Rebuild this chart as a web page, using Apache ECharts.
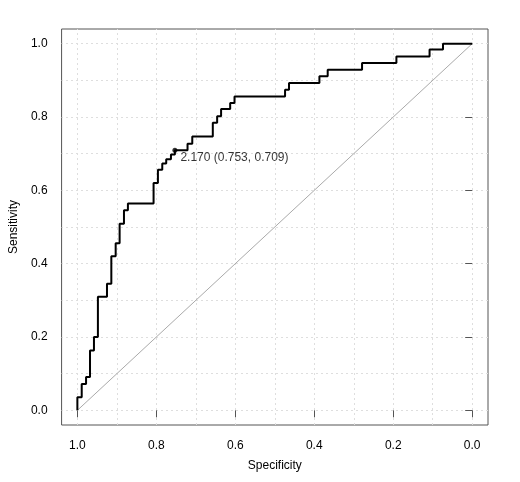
<!DOCTYPE html>
<html><head><meta charset="utf-8">
<script src="https://cdn.jsdelivr.net/npm/echarts@6/dist/echarts.min.js"></script>
<style>html,body{margin:0;padding:0;background:#fff}#c{width:520px;height:482px}</style>
</head><body><div id="c"></div>
<script>
// Specificity at which each vertical step occurs, and sensitivity reached after it
const stepSpecificity = [1.0, 0.989, 0.978, 0.968, 0.958, 0.948, 0.925, 0.914, 0.903, 0.893, 0.882, 0.872,
  0.807, 0.796, 0.785, 0.775, 0.763, 0.753, 0.721, 0.709, 0.657, 0.646, 0.636, 0.613, 0.602,
  0.474, 0.464, 0.387, 0.366, 0.279, 0.192, 0.108, 0.074];
const stepSensitivity = [0.036, 0.072, 0.091, 0.163, 0.200, 0.310, 0.345, 0.420, 0.456, 0.509, 0.546, 0.564,
  0.620, 0.656, 0.673, 0.685, 0.698, 0.709, 0.727, 0.747, 0.784, 0.802, 0.822, 0.838, 0.856,
  0.874, 0.893, 0.911, 0.929, 0.947, 0.965, 0.984, 1.0];
const tickValues = [0, 0.2, 0.4, 0.6, 0.8, 1.0];
const gridValues = [0, 0.1, 0.2, 0.3, 0.4, 0.5, 0.6, 0.7, 0.8, 0.9, 1.0];
const bestThreshold = 2.170;
const bestSpecificity = 0.753;
const bestSensitivity = 0.709;

const curve = [[1, 0]];
let prev = 0;
for (let i = 0; i < stepSpecificity.length; i++) {
  curve.push([stepSpecificity[i], prev]);
  curve.push([stepSpecificity[i], stepSensitivity[i]]);
  prev = stepSensitivity[i];
}
curve.push([0, prev]);

const FONT = "'Liberation Sans', Arial, Helvetica, sans-serif";
const chart = echarts.init(document.getElementById('c'), null, {renderer: 'canvas'});
const axisCommon = {
  type: 'value', min: -0.04, max: 1.04,
  axisLine: {show: false},
  axisTick: {show: true, inside: false, length: 7, customValues: tickValues, lineStyle: {color: '#555', width: 1}},
  axisLabel: {customValues: tickValues, formatter: v => v.toFixed(1), color: '#000', fontSize: 12, fontFamily: FONT},
  splitLine: {show: false},
  nameLocation: 'middle',
  nameTextStyle: {color: '#000', fontSize: 12, fontFamily: FONT}
};
chart.setOption({
  animation: false,
  backgroundColor: '#fff',
  grid: {left: 61, right: 32, top: 29, bottom: 57, show: true, borderColor: '#555', borderWidth: 1, backgroundColor: 'transparent'},
  xAxis: Object.assign({}, axisCommon, {inverse: true, name: 'Specificity', nameGap: 35,
    axisLabel: Object.assign({}, axisCommon.axisLabel, {margin: 15})}),
  yAxis: Object.assign({}, axisCommon, {name: 'Sensitivity', nameGap: 40,
    axisLabel: Object.assign({}, axisCommon.axisLabel, {margin: 14})}),
  series: [
    {
      type: 'line', data: [], symbol: 'none', silent: true, z: 0,
      markLine: {
        silent: true, symbol: 'none', label: {show: false}, animation: false, z: 0,
        lineStyle: {color: '#dedede', width: 1, type: [2, 3]},
        data: gridValues.map(v => ({xAxis: v})).concat(gridValues.map(v => ({yAxis: v})))
      }
    },
    {
      type: 'line', data: [[1, 0], [0, 1]], symbol: 'none', silent: true, z: 2,
      lineStyle: {color: '#aaaaaa', width: 1}
    },
    {
      type: 'line', data: curve, symbol: 'none', z: 3,
      lineStyle: {color: '#000', width: 2}
    },
    {
      type: 'scatter', data: [[bestSpecificity, bestSensitivity]], symbolSize: 5, z: 4,
      itemStyle: {color: '#000'},
      label: {show: true, position: 'right', distance: 3, offset: [0, 7], color: '#000', fontSize: 12, fontFamily: FONT,
        formatter: () => bestThreshold.toFixed(3) + ' (' + bestSpecificity.toFixed(3) + ', ' + bestSensitivity.toFixed(3) + ')'}
    }
  ]
});
</script></body></html>
